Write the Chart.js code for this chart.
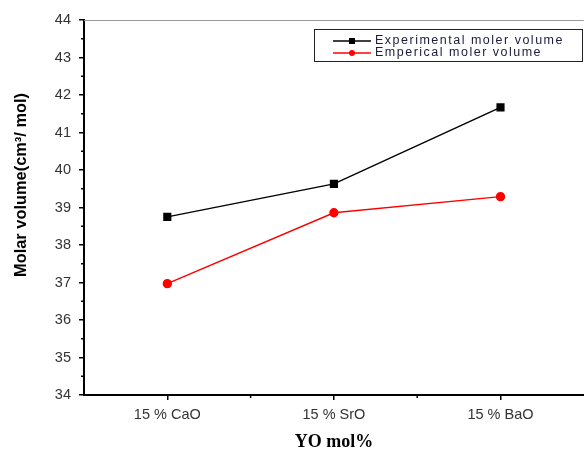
<!DOCTYPE html>
<html>
<head>
<meta charset="utf-8">
<script src="https://cdn.jsdelivr.net/npm/chart.js@4.4.1/dist/chart.umd.min.js"></script>
<style>
html, body { margin: 0; padding: 0; background: #fff; overflow: hidden; }
</style>
</head>
<body>
<canvas id="chartMolar" width="590" height="449"></canvas>
<script>
const categories = ['15 % CaO', '15 % SrO', '15 % BaO'];
const experimentalValues = [38.75, 39.63, 41.67];
const empiricalValues = [36.97, 38.86, 39.29];
const seriesNames = ['Experimental moler volume', 'Emperical moler volume'];
const yTicks = [34, 35, 36, 37, 38, 39, 40, 41, 42, 43, 44];
const yTitle = 'Molar volume(cm³/ mol)';

// minor ticks, top frame line, y title and boxed legend
const extrasPlugin = {
    id: 'extras',
    afterDraw(chart) {
        const { ctx, chartArea, scales: { x, y } } = chart;
        const line = (x1, y1, x2, y2) => { ctx.beginPath(); ctx.moveTo(x1, y1); ctx.lineTo(x2, y2); ctx.stroke(); };
        ctx.save();
        ctx.strokeStyle = '#9a9a9a'; ctx.lineWidth = 1;
        line(chartArea.left, chartArea.top + 0.5, chartArea.right, chartArea.top + 0.5);

        ctx.strokeStyle = '#000'; ctx.lineWidth = 1.5;
        for (let i = 0; i < yTicks.length - 1; i++) {
            const py = y.getPixelForValue((yTicks[i] + yTicks[i + 1]) / 2);
            line(chartArea.left - 3, py, chartArea.left, py);
        }
        for (let i = 0; i < categories.length - 1; i++) {
            const px = (x.getPixelForValue(i) + x.getPixelForValue(i + 1)) / 2;
            line(px, chartArea.bottom, px, chartArea.bottom + 3);
        }

        // y title
        ctx.save();
        ctx.translate(21, 185);
        ctx.rotate(-Math.PI / 2);
        ctx.fillStyle = '#000';
        ctx.font = 'bold 16.4px "Liberation Sans", Arial, sans-serif';
        ctx.textAlign = 'center';
        ctx.textBaseline = 'middle';
        ctx.fillText(yTitle, 0, 0);
        ctx.restore();

        // legend
        ctx.strokeStyle = '#222'; ctx.lineWidth = 1;
        ctx.strokeRect(314.5, 29.5, 268, 32);
        const rows = [41, 53];
        chart.data.datasets.forEach((ds, i) => {
            const ry = rows[i];
            ctx.strokeStyle = ds.borderColor; ctx.lineWidth = 1.5;
            line(333, ry, 371, ry);
            ctx.fillStyle = ds.borderColor;
            if (ds.pointStyle === 'rect') {
                ctx.fillRect(349, ry - 3, 6, 6);
            } else {
                ctx.beginPath(); ctx.arc(352, ry, 3, 0, Math.PI * 2); ctx.fill();
            }
            ctx.fillStyle = '#1c1c3c';
            ctx.font = '12.5px "Liberation Sans", Arial, sans-serif';
            ctx.letterSpacing = '1.5px';
            ctx.textBaseline = 'middle';
            ctx.textAlign = 'left';
            ctx.fillText(ds.label, 375, ry);
        });
        ctx.restore();
    }
};

const ctx = document.getElementById('chartMolar').getContext('2d');
new Chart(ctx, {
    type: 'line',
    data: {
        labels: categories,
        datasets: [
            { label: seriesNames[0], data: experimentalValues, borderColor: '#000', backgroundColor: '#000',
              borderWidth: 1.5, pointStyle: 'rect', pointRadius: 4.7, pointHoverRadius: 4.7 },
            { label: seriesNames[1], data: empiricalValues, borderColor: '#ff0000', backgroundColor: '#ff0000',
              borderWidth: 1.5, pointStyle: 'circle', pointRadius: 3.9, pointHoverRadius: 3.9 }
        ]
    },
    options: {
        responsive: false,
        animation: false,
        layout: { padding: { top: 20, right: 2, left: 0, bottom: 0 } },
        plugins: { legend: { display: false }, tooltip: { enabled: false } },
        scales: {
            x: {
                offset: true,
                border: { color: '#000', width: 2 },
                grid: { drawOnChartArea: false, color: '#000', lineWidth: 1.5, tickLength: 5 },
                ticks: { color: '#333', font: { family: '"Liberation Sans", Arial, sans-serif', size: 14.5 }, padding: 6, maxRotation: 0 },
                title: { display: true, text: 'YO mol%', color: '#000',
                         font: { family: '"Liberation Serif", "Times New Roman", serif', size: 18, weight: 'bold', lineHeight: 0.75 },
                         padding: { top: 0, bottom: 0 } },
                afterFit(scale) { scale.height = 54; }
            },
            y: {
                min: 34, max: 44,
                border: { color: '#000', width: 2 },
                grid: { drawOnChartArea: false, color: '#000', lineWidth: 1.5, tickLength: 5 },
                ticks: { stepSize: 1, color: '#333', font: { family: '"Liberation Sans", Arial, sans-serif', size: 14.5 }, padding: 8 },
                afterFit(scale) { scale.width = 84; }
            }
        }
    },
    plugins: [extrasPlugin]
});
</script>
</body>
</html>
